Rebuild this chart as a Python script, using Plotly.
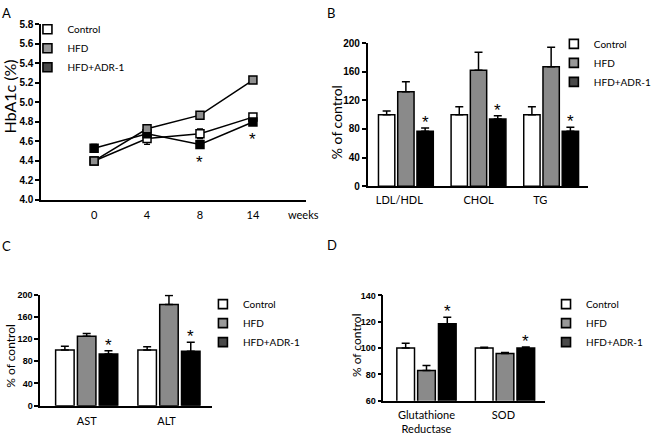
import plotly.graph_objects as go

# ---------------- data ----------------
weeks = ["0", "4", "8", "14"]
hba1c_control = [4.40, 4.63, 4.68, 4.85]
hba1c_control_err = [0.03, 0.06, 0.05, 0.03]
hba1c_hfd = [4.40, 4.73, 4.87, 5.23]
hba1c_hfd_err = [0.03, 0.03, 0.03, 0.03]
hba1c_adr = [4.53, 4.68, 4.57, 4.80]
hba1c_adr_err = [0.04, 0.03, 0.03, 0.02]
hba1c_sig = [False, False, True, True]

lipid_cats = ["LDL/HDL", "CHOL", "TG"]
lipid_control = [100, 100, 100]
lipid_control_err = [5, 11, 11]
lipid_hfd = [132, 162, 167]
lipid_hfd_err = [14, 25, 27]
lipid_adr = [77, 94, 77]
lipid_adr_err = [4.5, 4.5, 5.5]
lipid_sig = [True, True, True]

liver_cats = ["AST", "ALT"]
liver_control = [100, 100]
liver_control_err = [7, 6]
liver_hfd = [125, 182]
liver_hfd_err = [5, 16]
liver_adr = [93, 98]
liver_adr_err = [6, 16]
liver_sig = [True, True]

antiox_cats = ["Glutathione<br>Reductase", "SOD"]
antiox_control = [100, 100]
antiox_control_err = [3.75, 0.6]
antiox_hfd = [83, 96]
antiox_hfd_err = [3.75, 0.6]
antiox_adr = [118.5, 100]
antiox_adr_err = [5, 0.8]
antiox_sig = [True, True]

groups = ["Control", "HFD", "HFD+ADR-1"]

# ---------------- styles ----------------
W, H = 660, 436
TEXT_FONT = "Lato"
TICK_FONT = "Liberation Sans"
BAR_FILL = ["white", "#8a8a8a", "black"]
LINE_FILL = ["white", "#8f8f8f", "black"]
LEGEND_FILL = ["white", "#999999", "#4a4a4a"]
BAR_W = 0.225
BAR_CENTERS = [-0.265, 0.0, 0.265]


def px_x(p):
    return p / W


def px_y(p):
    return 1 - p / H


fig = go.Figure()

# ---------------- panel A (line chart) ----------------
xa = list(range(len(weeks)))
for vals, errs, fill in [
    (hba1c_control, hba1c_control_err, LINE_FILL[0]),
    (hba1c_adr, hba1c_adr_err, LINE_FILL[2]),
    (hba1c_hfd, hba1c_hfd_err, LINE_FILL[1]),
]:
    fig.add_trace(go.Scatter(
        x=xa, y=vals, mode="lines+markers", showlegend=False,
        line=dict(color="black", width=1.5),
        marker=dict(symbol="square", size=8, color=fill,
                    line=dict(color="black", width=1.5)),
        error_y=dict(type="data", array=errs, color="black", thickness=1.3, width=3),
        xaxis="x", yaxis="y",
    ))

annotations = []
for i, s in enumerate(hba1c_sig):
    if s:
        annotations.append(dict(
            x=i, y=hba1c_adr[i] - hba1c_adr_err[i], xref="x", yref="y",
            text="*", showarrow=False, yanchor="top", yshift=-4,
            font=dict(family=TICK_FONT, size=17, color="black")))


# ---------------- bar panels ----------------
def bar_panel(ax, series, errs, sig):
    xs = list(range(len(series[0])))
    for k in range(3):
        fig.add_trace(go.Bar(
            x=xs, y=series[k], width=BAR_W, offset=BAR_CENTERS[k] - BAR_W / 2,
            marker=dict(color=BAR_FILL[k], line=dict(color="black", width=1.5)),
            error_y=dict(type="data", symmetric=False, array=errs[k],
                         arrayminus=[0] * len(xs), color="black", thickness=1.5, width=4),
            showlegend=False, xaxis="x" + ax, yaxis="y" + ax,
        ))
    for i, s in enumerate(sig):
        if s:
            annotations.append(dict(
                x=i + BAR_CENTERS[2], y=series[2][i] + errs[2][i],
                xref="x" + ax, yref="y" + ax, text="*", showarrow=False,
                yanchor="bottom", yshift=-6,
                font=dict(family=TICK_FONT, size=17, color="black")))


bar_panel("2", [lipid_control, lipid_hfd, lipid_adr],
          [lipid_control_err, lipid_hfd_err, lipid_adr_err], lipid_sig)
bar_panel("3", [liver_control, liver_hfd, liver_adr],
          [liver_control_err, liver_hfd_err, liver_adr_err], liver_sig)
bar_panel("4", [antiox_control, antiox_hfd, antiox_adr],
          [antiox_control_err, antiox_hfd_err, antiox_adr_err], antiox_sig)

# ---------------- legends (entries) ----------------
for ax, leg in [("", "legend"), ("2", "legend2"), ("3", "legend3"), ("4", "legend4")]:
    for k, g in enumerate(groups):
        fig.add_trace(go.Scatter(
            x=[None], y=[None], mode="markers", name=g, legend=leg,
            marker=dict(symbol="square", size=9, color=LEGEND_FILL[k],
                        line=dict(color="black", width=1.6)),
            xaxis="x" + ax, yaxis="y" + ax,
        ))

# ---------------- axes ----------------
yaxis_common = dict(
    showline=True, linecolor="black", linewidth=1.5, ticks="outside", ticklen=4,
    tickwidth=1.5, tickcolor="black", showgrid=False, zeroline=False,
)
xaxis_common = dict(
    showline=True, linecolor="black", linewidth=1.5, ticks="", showgrid=False,
    zeroline=False, tickfont=dict(family=TEXT_FONT, size=11, color="black"),
)


def legend_cfg(x, y, size=10):
    return dict(x=px_x(x), y=px_y(y), xanchor="left", yanchor="top",
                bgcolor="rgba(0,0,0,0)", font=dict(family=TEXT_FONT, size=size, color="black"),
                tracegroupgap=0)


fig.update_layout(
    width=W, height=H, margin=dict(l=0, r=0, t=0, b=0),
    paper_bgcolor="white", plot_bgcolor="white",
    font=dict(family=TEXT_FONT, color="black"),
    barmode="overlay",
    xaxis=dict(**xaxis_common, domain=[px_x(42), px_x(312)], range=[-1, 4.0],
               tickvals=[0, 1, 2, 3, 3.95], ticktext=weeks + ["weeks"],
               ticklabelstandoff=4, anchor="y"),
    yaxis=dict(**yaxis_common, domain=[px_y(200), px_y(20)], range=[4.0, 5.8],
               dtick=0.2, tick0=4.0, tickformat=".1f",
               tickfont=dict(family=TICK_FONT, size=10, weight="bold", color="black"),
               anchor="x"),
    xaxis2=dict(**xaxis_common, domain=[px_x(375), px_x(600)], range=[-0.527, 2.51],
                tickvals=[-0.09, 1.0, 1.85], ticktext=lipid_cats,
                ticklabelstandoff=3, anchor="y2"),
    yaxis2=dict(**yaxis_common, domain=[px_y(186), px_y(39)], range=[0, 200], dtick=40,
                tickfont=dict(family=TICK_FONT, size=10, weight="bold", color="black"),
                anchor="x2"),
    xaxis3=dict(**xaxis_common, domain=[px_x(41), px_x(216)], range=[-0.565, 1.52],
                tickvals=[0, 0.97], ticktext=liver_cats,
                ticklabelstandoff=4, anchor="y3"),
    yaxis3=dict(**yaxis_common, domain=[px_y(411), px_y(297)], range=[0, 200], dtick=40,
                tickfont=dict(family=TICK_FONT, size=9, weight="bold", color="black"),
                anchor="x3"),
    xaxis4=dict(**xaxis_common, domain=[px_x(391), px_x(556)], range=[-0.55, 1.51],
                tickvals=[0, 0.98], ticktext=antiox_cats,
                ticklabelstandoff=3, anchor="y4"),
    yaxis4=dict(**yaxis_common, domain=[px_y(406), px_y(298)], range=[60, 140], dtick=20,
                tickfont=dict(family=TICK_FONT, size=9, weight="bold", color="black"),
                anchor="x4"),
    legend=legend_cfg(28, 10),
    legend2=legend_cfg(565, 25),
    legend3=legend_cfg(207, 292),
    legend4=legend_cfg(557, 292),
)

# y-axis titles (placed as rotated labels next to each axis)
for text, x, y, size in [("HbA1c (%)", 10, 94, 16), ("% of control", 344, 120, 14),
                         ("% of control", 11, 360, 12), ("% of control", 363, 349, 12)]:
    annotations.append(dict(x=px_x(x), y=px_y(y), xref="paper", yref="paper", text=text,
                            textangle=-90, showarrow=False, xanchor="center", yanchor="middle",
                            font=dict(family=TEXT_FONT, size=size, color="black")))

# panel letters
for letter, x, y in [("A", 7, 8), ("B", 338, 8), ("C", 7, 247), ("D", 339, 246)]:
    annotations.append(dict(x=px_x(x), y=px_y(y), xref="paper", yref="paper", text=letter,
                            showarrow=False, xanchor="center", yanchor="middle",
                            font=dict(family=TEXT_FONT, size=13, color="black")))

fig.update_layout(annotations=annotations)
fig.write_html("out.html", config={"displayModeBar": False},
               post_script="document.body.style.margin='0';")
